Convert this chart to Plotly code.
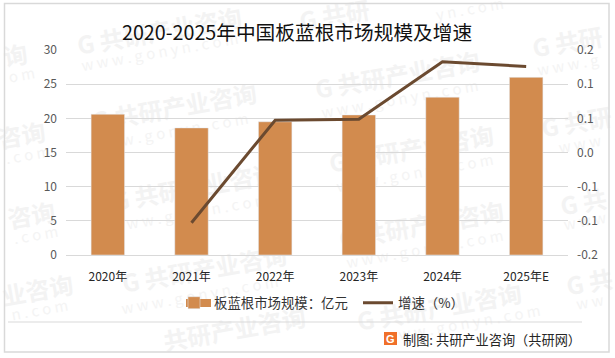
import plotly.graph_objects as go

categories = ["2020年", "2021年", "2022年", "2023年", "2024年", "2025年E"]
market_size = [20.6, 18.6, 19.5, 20.5, 23.1, 26.0]
growth = [None, -0.137, 0.063, 0.065, 0.177, 0.168]
left_ticks = [0, 5, 10, 15, 20, 25, 30]
right_ticks = [-0.2, -0.1333, -0.0667, 0, 0.0667, 0.1333, 0.2]
right_labels = ["-0.2", "-0.1", "-0.1", "0.0", "0.1", "0.1", "0.2"]

FONT = "Noto Sans CJK SC"
W, H = 615, 358
L, R, T, B = 66, 568, 50, 255

def px(x): return (x - L) / (R - L)
def py(y): return (B - y) / (B - T)

fig = go.Figure()
fig.add_trace(go.Bar(x=categories, y=market_size, name="板蓝根市场规模：亿元",
                     marker_color="#D28B4E", width=0.4, yaxis="y"))
fig.add_trace(go.Scatter(x=categories, y=growth, name="增速（%）", mode="lines",
                         line=dict(color="#6B4A30", width=3), yaxis="y2"))

shapes = []
annotations = []

def label_box(cx, cy, hw, hh, text, size, color):
    return dict(type="rect", xref="paper", yref="paper", layer="below",
                x0=px(cx - hw), x1=px(cx + hw), y0=py(cy + hh), y1=py(cy - hh),
                line=dict(width=0), fillcolor="rgba(0,0,0,0)",
                label=dict(text=text, textangle=-10, textposition="middle center",
                           font=dict(family=FONT, size=size, color=color)))

FULL = "<b>G 共研产业咨询</b>"
SUB = "w w w . g o n y n . c o m"
# (main x, main y, main text, sub x, sub y, sub text)
marks = [
    (160, 34, FULL, 160, 53, SUB),
    (175, 110, FULL, 170, 133, SUB),
    (195, 190, FULL, 190, 214, SUB),
    (205, 272, FULL, 200, 296, SUB),
    (235, 332, "<b>共研产业咨询</b>", None, None, None),
    (398, 78, FULL, 400, 100, SUB),
    (412, 152, FULL, 415, 174, SUB),
    (422, 228, FULL, 425, 250, SUB),
    (440, 310, FULL, 462, 325, SUB),
    (335, 18, "<b>G 共研</b>", 470, 10, "y n . c o m"),
    (16, 58, "<b>询</b>", 22, 76, "o m"),
    (22, 138, "<b>咨询</b>", 28, 156, ". c o m"),
    (32, 218, "<b>咨询</b>", 36, 236, ". c o m"),
    (38, 293, "<b>业咨询</b>", 40, 311, "n . c o m"),
    (568, 45, "<b>G 共研</b>", 568, 66, "w w w . g"),
    (577, 125, "<b>G 共研</b>", 580, 145, "w w w"),
    (584, 205, "<b>G 共</b>", 585, 222, "w w w"),
    (590, 285, "<b>G 共</b>", 590, 303, "w w"),
]
for cx, cy, main, sx, sy, sub in marks:
    shapes.append(label_box(cx, cy, 90, 14, main, 24, "#F3F3F3"))
    if sub:
        shapes.append(label_box(sx, sy, 85, 10, sub, 15, "#F4F4F4"))

# frame and footer rule
shapes.append(dict(type="rect", xref="paper", yref="paper", x0=px(4.5), x1=px(609), y0=py(352), y1=py(3.5),
                   line=dict(color="#D9D9D9", width=1.5), fillcolor="rgba(0,0,0,0)"))
shapes.append(dict(type="line", xref="paper", yref="paper", x0=px(8), x1=px(582), y0=py(322), y1=py(322),
                   line=dict(color="#D9D9D9", width=1)))
# logo
shapes.append(dict(type="rect", xref="paper", yref="paper", x0=px(384), x1=px(397), y0=py(345), y1=py(332),
                   line=dict(width=0), fillcolor="#F0702A", layer="below"))
# widen the bar swatch of the legend
shapes.append(dict(type="rect", xref="paper", yref="paper", x0=px(186), x1=px(211), y0=py(307), y1=py(299),
                   line=dict(width=0), fillcolor="#D28B4E", layer="above"))

annotations.append(dict(text="<b>G</b>", xref="paper", yref="paper", x=px(390.5), y=py(338.5), showarrow=False,
                        xanchor="center", yanchor="middle", borderpad=0,
                        font=dict(family="Liberation Sans", size=11, color="white")))
annotations.append(dict(text="制图: 共研产业咨询（共研网）", xref="paper", yref="paper", x=px(583), y=py(339),
                        xanchor="right", yanchor="middle", showarrow=False,
                        font=dict(family=FONT, size=13.2, color="#262626")))
annotations.append(dict(text="2020-2025年中国板蓝根市场规模及增速", xref="paper", yref="paper", x=px(297), y=py(32),
                        xanchor="center", yanchor="middle", showarrow=False,
                        font=dict(family=FONT, size=19.7, color="#111111")))

fig.update_layout(
    width=W, height=H, autosize=False,
    margin=dict(l=L, r=W - R, t=T, b=H - B, autoexpand=False),
    paper_bgcolor="white", plot_bgcolor="rgba(0,0,0,0)",
    font=dict(family=FONT, size=12, color="#595959"),
    xaxis=dict(type="category", showgrid=False, ticks="", automargin=False,
               showline=True, linecolor="#D9D9D9", tickfont=dict(size=12, color="#262626"), ticklabelstandoff=11),
    yaxis=dict(range=[0, 30], tickvals=left_ticks, gridcolor="#D9D9D9", automargin=False,
               zeroline=False, ticks="", tickfont=dict(size=12, color="#595959"), ticklabelstandoff=8),
    yaxis2=dict(range=[-0.2, 0.2], overlaying="y", side="right", automargin=False,
                tickvals=right_ticks, ticktext=right_labels, showgrid=False, zeroline=False, ticks="",
                anchor="x", tickfont=dict(size=12, color="#595959"), ticklabelstandoff=8),
    legend=dict(orientation="h", x=px(174), y=py(303), xanchor="left", yanchor="middle",
                font=dict(size=13.4, color="#333333"), itemwidth=30, entrywidth=139, entrywidthmode="pixels",
                bgcolor="rgba(0,0,0,0)", traceorder="normal"),
    shapes=shapes, annotations=annotations, showlegend=True, bargap=0.6,
)
fig.write_html("out.html", config={"displayModeBar": False},
               post_script="document.body.style.margin='0';document.documentElement.style.overflow='hidden';")
